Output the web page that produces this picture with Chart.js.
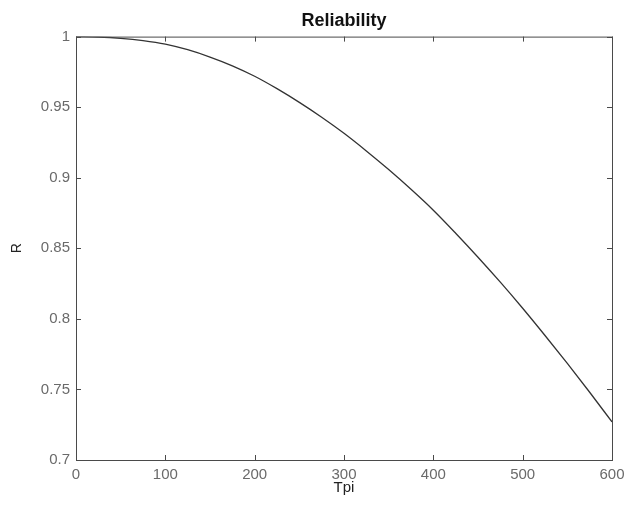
<!DOCTYPE html>
<html>
<head>
<meta charset="utf-8">
<script src="https://cdn.jsdelivr.net/npm/chart.js@4"></script>
<style>
    html, body { margin: 0; padding: 0; background: #fff; }
    .graph { width: 624px; height: 508px; }
</style>
</head>
<body>
<div class="graph"><canvas id="chart"></canvas></div>
<script>
// values
let tpi = [0, 25, 50, 75, 100, 125, 150, 175, 200, 225, 250, 275, 300,
           325, 350, 375, 400, 425, 450, 475, 500, 525, 550, 575, 600];
let reliability = [1.0000, 0.9997, 0.9988, 0.9972, 0.9947, 0.9907, 0.9855, 0.9793, 0.9719,
                   0.9631, 0.9534, 0.9429, 0.9315, 0.9190, 0.9058, 0.8918, 0.8770, 0.8607,
                   0.8437, 0.8260, 0.8075, 0.7882, 0.7684, 0.7480, 0.7270];
let xTicks = [0, 100, 200, 300, 400, 500, 600];
let yTicks = [0.7, 0.75, 0.8, 0.85, 0.9, 0.95, 1];

let axisColor = "#4a4a4a";
let textColor = "#6a6a6a";

// matlab style box with ticks pointing inside
let boxPlugin = {
    id: "box",
    afterDraw(chart) {
        let ctx = chart.ctx;
        let a = chart.chartArea;
        let xs = chart.scales.x, ys = chart.scales.y;
        let len = 5;
        ctx.save();
        ctx.strokeStyle = axisColor;
        ctx.lineWidth = 1;
        ctx.strokeRect(a.left + 0.5, a.top + 0.5, a.right - a.left, a.bottom - a.top);
        ctx.beginPath();
        xTicks.forEach(v => {
            let px = Math.round(xs.getPixelForValue(v)) + 0.5;
            ctx.moveTo(px, a.bottom);
            ctx.lineTo(px, a.bottom - len);
            ctx.moveTo(px, a.top);
            ctx.lineTo(px, a.top + len);
        });
        yTicks.forEach(v => {
            let py = Math.round(ys.getPixelForValue(v)) + 0.5;
            ctx.moveTo(a.left, py);
            ctx.lineTo(a.left + len, py);
            ctx.moveTo(a.right, py);
            ctx.lineTo(a.right - len, py);
        });
        ctx.stroke();
        ctx.restore();
    }
};

let chart = new Chart(document.getElementById("chart"), {
    type: "line",
    data: {
        datasets: [{
            data: tpi.map((t, i) => ({ x: t, y: reliability[i] })),
            borderColor: "#333",
            borderWidth: 1.3,
            fill: false,
        }]
    },
    options: {
        responsive: true,
        maintainAspectRatio: false,
        animation: false,
        layout: { padding: { top: 0, right: 12, bottom: 0, left: 0 } },
        elements: {
            point: { radius: 0 },
            line: { cubicInterpolationMode: "monotone" },
        },
        plugins: {
            legend: { display: false },
            tooltip: { enabled: false },
            title: {
                display: true,
                fullSize: false,
                text: "Reliability",
                color: "#111",
                font: { family: "Liberation Sans", size: 18, weight: "bold" },
                padding: { top: 10, bottom: 5 },
            },
        },
        scales: {
            x: {
                type: "linear",
                min: 0,
                max: 600,
                afterBuildTicks: s => { s.ticks = xTicks.map(v => ({ value: v })); },
                afterFit: s => { s.height = 48; s.paddingLeft = 0; s.paddingRight = 0; },
                grid: { display: false, drawTicks: false },
                border: { display: false },
                ticks: {
                    color: textColor,
                    padding: 6,
                    maxRotation: 0,
                    font: { family: "Liberation Sans", size: 15 },
                },
                title: {
                    display: true,
                    text: "Tpi",
                    color: "#222",
                    font: { family: "Liberation Sans", size: 15 },
                    padding: { top: 0, bottom: 11 },
                },
            },
            y: {
                type: "linear",
                min: 0.7,
                max: 1,
                afterBuildTicks: s => { s.ticks = yTicks.map(v => ({ value: v })); },
                afterFit: s => { s.width = 76; s.paddingTop = 0; s.paddingBottom = 0; },
                grid: { display: false, drawTicks: false },
                border: { display: false },
                ticks: {
                    color: textColor,
                    padding: 6,
                    font: { family: "Liberation Sans", size: 15 },
                    callback: v => String(v),
                },
                title: {
                    display: true,
                    text: "R",
                    color: "#222",
                    font: { family: "Liberation Sans", size: 14 },
                    padding: { top: 9, bottom: 0 },
                },
            },
        },
    },
    plugins: [boxPlugin],
});
</script>
</body>
</html>
